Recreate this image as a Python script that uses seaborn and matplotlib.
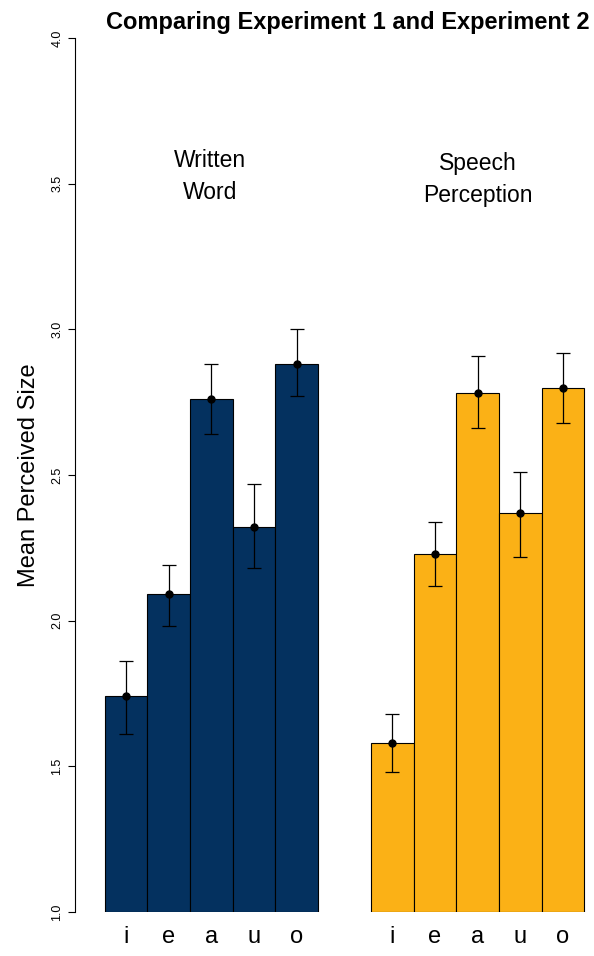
import matplotlib
matplotlib.use("Agg")
import matplotlib.pyplot as plt
import seaborn as sns
import pandas as pd
import numpy as np

vowels = ["i", "e", "a", "u", "o"]
written = [1.74, 2.09, 2.76, 2.32, 2.88]
written_lo = [1.61, 1.98, 2.64, 2.18, 2.77]
written_hi = [1.86, 2.19, 2.88, 2.47, 3.00]
speech = [1.58, 2.23, 2.78, 2.37, 2.80]
speech_lo = [1.48, 2.12, 2.66, 2.22, 2.68]
speech_hi = [1.68, 2.34, 2.91, 2.51, 2.92]
groups = ["Written\nWord", "Speech\nPerception"]
colors = ["#04315f", "#fbb116"]

pos_w = np.arange(5, dtype=float)
pos_s = pos_w + 6.25
df = pd.DataFrame({
    "pos": np.concatenate([pos_w, pos_s]),
    "val": written + speech,
    "lo": written_lo + speech_lo,
    "hi": written_hi + speech_hi,
    "grp": [groups[0]] * 5 + [groups[1]] * 5,
})

sns.set_style("white")
plt.rcParams["font.family"] = ["Liberation Sans", "DejaVu Sans"]
plt.rcParams["text.color"] = "black"
plt.rcParams["axes.labelcolor"] = "black"
plt.rcParams["xtick.color"] = "black"
plt.rcParams["ytick.color"] = "black"
fig = plt.figure(figsize=(5.94, 9.56), dpi=100)
ax = fig.add_axes([75/594, 1-912/956, 1-75/594, (912-38)/956])
sns.barplot(data=df, x="pos", y="val", hue="grp", palette=colors, native_scale=True, saturation=1,
            width=1.0, dodge=False, edgecolor="black", linewidth=0.8, legend=False, ax=ax)
for b in ax.patches:
    b.set_y(1.0); b.set_height(b.get_height() - 1.0)
ax.errorbar(df["pos"], df["val"], yerr=[df["val"] - df["lo"], df["hi"] - df["val"]],
            fmt="o", color="black", ms=5, capsize=5, elinewidth=0.9, capthick=0.9)
ax.set_ylim(1.0, 4.0)
ax.set_xlim(-1.2, 10.98)
ax.set_yticks([1.0, 1.5, 2.0, 2.5, 3.0, 3.5, 4.0])
ax.set_yticklabels([f"{v:.1f}" for v in [1.0, 1.5, 2.0, 2.5, 3.0, 3.5, 4.0]], rotation=90, va="center", fontsize=9)
ax.tick_params(axis="y", length=5, width=0.8, left=True, direction="out")
ax.set_xticks(list(df["pos"]))
ax.set_xticklabels(vowels * 2, fontsize=17)
ax.tick_params(axis="x", length=0, pad=10)
ax.set_xlabel("")
ax.set_ylabel("Mean Perceived Size", fontsize=17, labelpad=8)
for s in ["top", "right", "bottom"]:
    ax.spines[s].set_visible(False)
ax.spines["left"].set_color("black")
ax.text(1.97, 3.62, groups[0], ha="center", va="top", fontsize=16.5, linespacing=1.5)
ax.text(8.26, 3.42, groups[1], ha="center", va="bottom", fontsize=16.5, linespacing=1.5)
fig.text(106/594, 1-22/956, "Comparing Experiment 1 and Experiment 2", ha="left", va="center",
         fontsize=17, fontweight="bold")
fig.savefig("out.png", dpi=100)
